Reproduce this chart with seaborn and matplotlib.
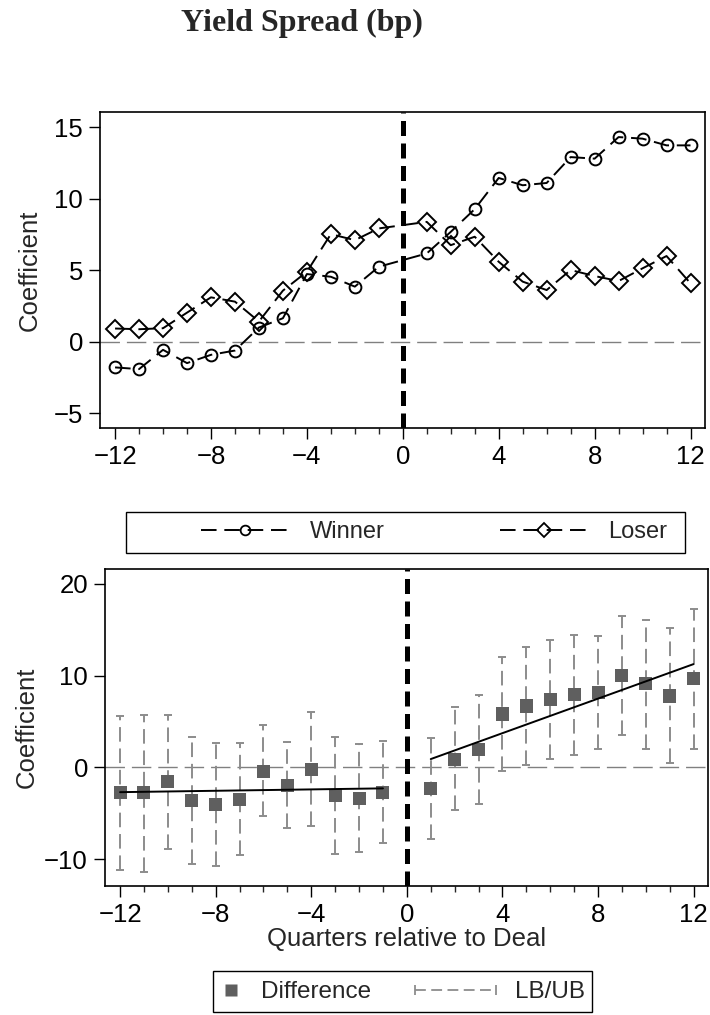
import numpy as np
import pandas as pd
import matplotlib
matplotlib.use("Agg")
import matplotlib.pyplot as plt
from matplotlib.lines import Line2D
from matplotlib.patches import Rectangle
from matplotlib.legend_handler import HandlerLine2D
from matplotlib.ticker import MultipleLocator
import seaborn as sns

sns.set_theme(style="ticks")
plt.rcParams['font.family'] = ['Liberation Sans', 'DejaVu Sans']

quarters = [-12, -11, -10, -9, -8, -7, -6, -5, -4, -3, -2, -1,
            1, 2, 3, 4, 5, 6, 7, 8, 9, 10, 11, 12]
winner = [-1.81, -1.93, -0.58, -1.51, -0.93, -0.63, 0.98, 1.63, 4.72, 4.53, 3.84, 5.23,
          6.16, 7.67, 9.26, 11.44, 10.93, 11.09, 12.90, 12.79, 14.30, 14.19, 13.72, 13.72]
loser = [0.91, 0.86, 0.93, 2.02, 3.09, 2.79, 1.40, 3.56, 4.88, 7.51, 7.09, 7.91,
         8.37, 6.74, 7.33, 5.58, 4.19, 3.60, 5.00, 4.58, 4.23, 5.12, 5.98, 4.07]
difference = [-2.76, -2.76, -1.56, -3.56, -4.00, -3.49, -0.40, -1.93, -0.18, -3.02, -3.38, -2.73,
              -2.29, 0.91, 1.96, 5.82, 6.69, 7.35, 7.89, 8.18, 10.00, 9.09, 7.78, 9.64]
upper = [5.60, 5.71, 5.71, 3.35, 2.69, 2.62, 4.58, 2.73, 6.04, 3.35, 2.55, 2.84,
         3.16, 6.62, 7.93, 12.00, 13.09, 13.82, 14.40, 14.33, 16.50, 16.00, 15.13, 17.24]
lower = [-11.13, -11.38, -8.87, -10.47, -10.76, -9.56, -5.31, -6.58, -6.40, -9.38, -9.24, -8.25,
         -7.75, -4.65, -4.00, -0.36, 0.25, 0.91, 1.38, 2.00, 3.53, 2.04, 0.44, 2.00]

df = pd.DataFrame({"q": quarters, "winner": winner, "loser": loser,
                   "diff": difference, "ub": upper, "lb": lower})
pre = df[df.q < 0]
post = df[df.q > 0]

gray_line = '#808080'
err_col = '#8c8c8c'
sq_col = '#5f5f5f'
dash_ls = (0, (8, 4))
fs = 18.5

fig = plt.figure(figsize=(7.1, 10.15), dpi=100)
ax1 = fig.add_axes([0.1408, 0.5783, 0.852, 0.3113])
ax2 = fig.add_axes([0.1479, 0.1271, 0.8493, 0.3123])

## top panel: winner / loser
ax1.axhline(0, color=gray_line, lw=1.0, ls=(0, (14, 5)), zorder=1)
sns.lineplot(data=df, x="q", y="winner", ax=ax1, color='black', lw=1.4, linestyle=dash_ls,
             marker='o', markersize=8.5, markerfacecolor='none', markeredgecolor='black',
             markeredgewidth=1.4, zorder=3)
sns.lineplot(data=df, x="q", y="loser", ax=ax1, color='black', lw=1.4, linestyle=dash_ls,
             marker='D', markersize=9.5, markerfacecolor='none', markeredgecolor='black',
             markeredgewidth=1.4, zorder=3)
ax1.axvline(0, color='black', lw=3.6, ls=(0, (3, 1.5)), zorder=5)
ax1.set_ylim(-6.05, 16.05)
ax1.yaxis.set_major_locator(MultipleLocator(5))
ax1.set_xlabel("")
ax1.set_ylabel("Coefficient", fontsize=fs, labelpad=8.5)

## bottom panel: difference with bounds
ax2.axhline(0, color=gray_line, lw=1.0, ls=(0, (14, 5)), zorder=1)
eb = ax2.errorbar(df.q, df["diff"], yerr=[df["diff"] - df.lb, df.ub - df["diff"]], fmt='none',
                  ecolor=err_col, elinewidth=1.4, capsize=3, capthick=1.4, zorder=2)
eb.lines[2][0].set_linestyle((0, (7.5, 3.5)))
sns.scatterplot(data=df, x="q", y="diff", ax=ax2, marker='s', s=88, color=sq_col,
                edgecolor='none', zorder=4)
sns.regplot(data=pre, x="q", y="diff", ax=ax2, scatter=False, ci=None, truncate=True,
            color='black', line_kws={'lw': 1.4, 'zorder': 4})
sns.regplot(data=post, x="q", y="diff", ax=ax2, scatter=False, ci=None, truncate=True,
            color='black', line_kws={'lw': 1.4, 'zorder': 4})
ax2.axvline(0, color='black', lw=3.6, ls=(0, (3, 1.5)), zorder=5)
ax2.set_ylim(-12.9, 21.6)
ax2.yaxis.set_major_locator(MultipleLocator(10))
ax2.set_xlabel("Quarters relative to Deal", fontsize=fs, labelpad=0)
ax2.set_ylabel("Coefficient", fontsize=fs, labelpad=4.2)

for ax in (ax1, ax2):
    ax.set_xlim(-12.63, 12.6)
    ax.xaxis.set_major_locator(MultipleLocator(4))
    ax.xaxis.set_minor_locator(MultipleLocator(1))
    ax.tick_params(which='major', direction='out', length=8, width=1.0, labelsize=fs,
                   pad=4.3, colors='black')
    ax.tick_params(axis='x', which='minor', direction='out', length=4.3, width=1.0)
    ax.tick_params(axis='y', which='minor', left=False)
    for s in ax.spines.values():
        s.set_visible(True)
        s.set_color('black')
        s.set_linewidth(1.2)

## title
fig.text(302 / 710, 1 - 31 / 1015, "Yield Spread (bp)", ha='center', va='baseline',
         fontsize=23, fontweight='bold', family=['Liberation Serif', 'DejaVu Serif'])

## legends
H, W = 1015, 710
h_win = Line2D([], [], color='black', lw=1.4, ls=dash_ls, marker='o', ms=7,
               mfc='none', mec='black', mew=1.3)
h_los = Line2D([], [], color='black', lw=1.4, ls=dash_ls, marker='D', ms=7.5,
               mfc='none', mec='black', mew=1.3)
for h, lab, x0 in [(h_win, "Winner", 201), (h_los, "Loser", 500)]:
    fig.legend([h], [lab], loc='center left', bbox_to_anchor=(x0 / W, 1 - 532 / H),
               frameon=False, fontsize=17, handlelength=3.7, handletextpad=0.9,
               borderpad=0, borderaxespad=0)
fig.add_artist(Rectangle((126 / W, 1 - 553 / H), (685 - 126) / W, 41 / H,
                         transform=fig.transFigure, fill=False, ec='black', lw=1.0))

h_sq = Line2D([], [], ls='none', marker='s', ms=8, color=sq_col, mec='none')
h_bd = Line2D([], [], color=err_col, lw=1.3, ls=(0, (6, 3)), marker='|', ms=7, mew=1.3)
fig.legend([h_sq], ["Difference"], loc='center left', bbox_to_anchor=(220 / W, 1 - 992 / H),
           frameon=False, fontsize=17.5, handlelength=0.9, handletextpad=0.8,
           borderpad=0, borderaxespad=0)
fig.legend([h_bd], ["LB/UB"], loc='center left', bbox_to_anchor=(408 / W, 1 - 992 / H),
           frameon=False, fontsize=17.5, handlelength=3.9, handletextpad=0.5,
           borderpad=0, borderaxespad=0, handler_map={h_bd: HandlerLine2D(numpoints=2)})
fig.add_artist(Rectangle((213 / W, 1 - 1012 / H), (592 - 213) / W, 41 / H,
                         transform=fig.transFigure, fill=False, ec='black', lw=1.0))

fig.savefig("out.png", dpi=100)
plt.close()
